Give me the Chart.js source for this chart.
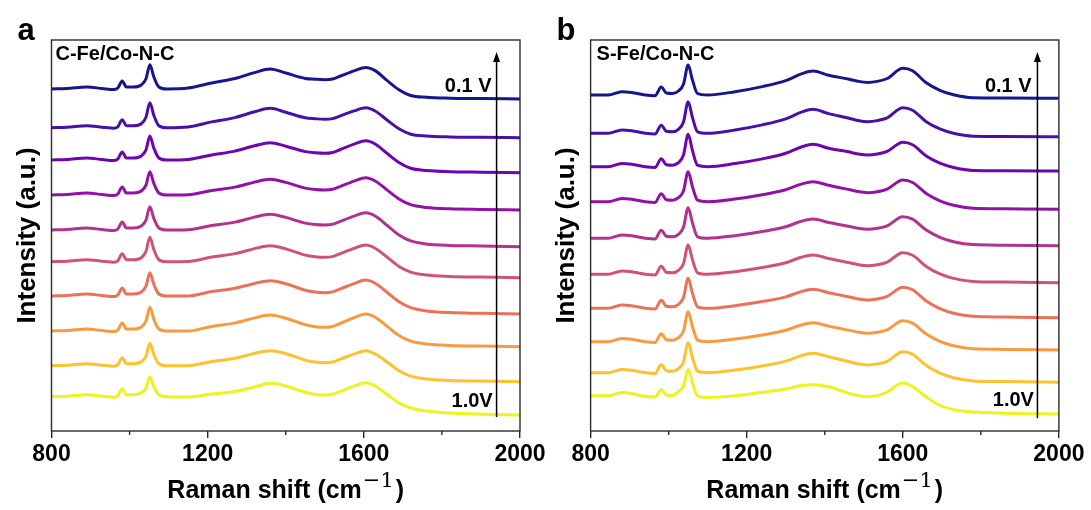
<!DOCTYPE html>
<html>
<head>
<meta charset="utf-8">
<script src="https://cdn.jsdelivr.net/npm/chart.js@4.4.1/dist/chart.umd.min.js"></script>
<style>
  html, body { margin: 0; padding: 0; background: #fff; }
  #wrap { position: relative; width: 1091px; height: 510px; overflow: hidden; }
  .panel { position: absolute; top: 0; height: 510px; }
  #pa { left: 0; width: 560px; }
  #pb { left: 530px; width: 561px; }
</style>
</head>
<body>
<div id="wrap">
  <div class="panel" id="pa"><canvas id="ca"></canvas></div>
  <div class="panel" id="pb"><canvas id="cb"></canvas></div>
</div>
<script>
// ---- Raman spectra (stacked, 0.1 V on top down to 1.0 V at the bottom) ----
const potentials = ['0.1 V', '0.2 V', '0.3 V', '0.4 V', '0.5 V', '0.6 V', '0.7 V', '0.8 V', '0.9 V', '1.0 V'];

// C-Fe/Co-N-C
const ramanShiftA = [800, 840, 890, 930, 960, 970, 981, 992, 1010, 1030, 1042, 1052, 1062, 1075, 1095, 1150, 1210, 1270, 1320, 1360, 1400, 1450, 1475, 1500, 1520, 1540, 1575, 1605, 1630, 1660, 1690, 1720, 1760, 1820, 1900, 2000];
const cFe_01 = [342, 342.5, 344, 342.5, 341.5, 343, 350, 344, 344, 346, 352.2, 366.3, 354.2, 344, 342, 342.9, 348, 352.5, 358.4, 362, 358, 352.6, 351.8, 351.3, 352, 355, 360.2, 363.6, 360.1, 350.3, 341.3, 335.5, 333.7, 332.8, 332.4, 332];
const cFe_02 = [303.3, 303.8, 305.3, 303.8, 302.8, 304.3, 311.3, 305.3, 305.3, 307.3, 313.8, 328.3, 315.8, 305.3, 303.3, 304.1, 309.1, 313.4, 319.2, 322.7, 318.8, 313.2, 312.3, 311.7, 312.4, 315.2, 320.1, 323.3, 319.8, 310.8, 302.3, 296.8, 295, 294.1, 293.7, 293.3];
const cFe_03 = [271, 271.5, 273, 271.5, 270.5, 272, 279, 273, 273, 275, 281.1, 295, 283, 273, 271, 271.5, 276.1, 279.9, 285.2, 288.3, 284.8, 279.4, 278.2, 277.7, 278.5, 281.5, 286.8, 290.3, 286.8, 277.5, 268.5, 262.7, 260.5, 259.3, 258.8, 258.3];
const cFe_04 = [236, 236.5, 238, 236.5, 235.5, 237, 244, 238, 238, 240, 245.8, 259.3, 247.7, 238, 236, 236.3, 240.5, 243.9, 248.9, 251.7, 248.6, 242.9, 241.5, 241, 241.7, 244.7, 249.9, 253.3, 249.8, 240.9, 232, 226.3, 223.6, 222.2, 221.6, 221];
const cFe_05 = [201, 201.5, 203, 201.5, 200.5, 202, 209, 203, 203, 205, 210.8, 224.3, 212.7, 203, 201, 201.3, 205.5, 208.9, 213.9, 216.7, 213.6, 207.9, 206.5, 206, 206.7, 209.7, 214.9, 218.3, 214.8, 205.5, 196.1, 190.1, 187.1, 185.6, 185, 184.3];
const cFe_06 = [169.3, 169.8, 171.3, 169.8, 168.8, 170.3, 177.3, 171.3, 171.3, 173.3, 179.6, 193.7, 181.5, 171.3, 169.3, 169.5, 173.9, 177.4, 182.4, 185.3, 182.1, 175.9, 174.3, 173.7, 174.4, 177.4, 182.6, 186, 182.5, 173.7, 164.6, 158.9, 156, 154.6, 153.9, 153.3];
const cFe_07 = [135, 135.5, 137, 135.5, 134.5, 136, 143, 137, 137, 139, 144.8, 158.3, 146.7, 137, 135, 135, 139.4, 142.7, 147.5, 150.3, 147.2, 140.8, 138.9, 138.3, 139.1, 142.1, 147.4, 151, 147.5, 138.5, 129.2, 123.3, 120.1, 118.4, 117.7, 117];
const cFe_08 = [100, 100.5, 102, 100.5, 99.5, 101, 108, 102, 102, 104, 110, 123.7, 111.9, 102, 100, 100, 104.6, 108.1, 113.1, 116, 112.8, 106.2, 104.3, 103.7, 104.5, 107.7, 113.3, 117, 113.5, 104.6, 95.5, 89.8, 87, 85.6, 84.9, 84.3];
const cFe_09 = [65.3, 65.8, 67.3, 65.8, 64.8, 66.3, 73.3, 67.3, 67.3, 69.3, 74.7, 87.7, 76.5, 67.3, 65.3, 65.3, 69.5, 72.8, 77.6, 80.3, 77.3, 70.9, 68.9, 68.3, 69, 71.9, 76.9, 80.3, 76.8, 68.8, 60.3, 54.9, 52, 50.6, 49.9, 49.3];
const cFe_10 = [34.3, 34.8, 36.3, 34.8, 33.8, 35.3, 42.3, 36.3, 36.3, 38.3, 42.7, 54.3, 44.3, 36.3, 34.3, 34, 37, 39.5, 44, 47.7, 45, 38.7, 36.5, 36, 36.8, 39.7, 44.9, 48.3, 44.8, 36.5, 28, 23, 20, 18, 16.8, 16];

// S-Fe/Co-N-C
const ramanShiftB = [800, 845, 880, 905, 940, 965, 981, 994, 1010, 1025, 1038, 1050, 1061, 1074, 1100, 1170, 1240, 1300, 1340, 1370, 1410, 1460, 1485, 1510, 1535, 1560, 1600, 1625, 1660, 1695, 1730, 1780, 1860, 2000];
const sFe_01 = [336, 336, 339.2, 338.5, 336, 335.2, 344, 338, 337.5, 340, 346.8, 366, 351, 337.5, 336, 339.3, 344.4, 350.4, 357.1, 360, 355.7, 352, 349.7, 348.5, 349.6, 352.5, 362.7, 360.2, 348.2, 340.7, 336.2, 333.2, 332.9, 332.7];
const sFe_02 = [297.7, 297.7, 300.9, 300.2, 297.7, 296.9, 305.7, 299.7, 299.2, 301.7, 309.1, 329.3, 313.5, 299.2, 297.7, 301, 306.1, 312.1, 318.8, 321.7, 317.4, 313, 310.5, 309.3, 310.4, 313.2, 323.3, 320.8, 309.3, 302.1, 297.7, 294.8, 294.5, 294.3];
const sFe_03 = [264.3, 264.3, 267.5, 266.8, 264.3, 263.5, 272.3, 266.3, 265.8, 268.3, 276, 296.7, 280.5, 265.8, 264.3, 267.4, 272.1, 277.7, 284, 286.7, 282.7, 279.2, 277.1, 276, 277, 279.6, 288.7, 286.2, 275, 267.8, 263.5, 260.6, 260.3, 260];
const sFe_04 = [229.3, 229.3, 232.5, 231.8, 229.3, 228.5, 237.3, 231.3, 230.8, 233.3, 240.1, 259.3, 244.3, 230.8, 229.3, 232, 236.3, 241.3, 246.9, 249.3, 245.7, 241.6, 239.4, 238.3, 239.3, 241.9, 251, 248.5, 237.5, 230.2, 225.8, 222.8, 222.2, 221.7];
const sFe_05 = [192.7, 192.7, 195.9, 195.2, 192.7, 191.9, 200.7, 194.7, 194.2, 196.7, 203.7, 223.3, 208, 194.2, 192.7, 195.3, 199.5, 204.3, 209.7, 212, 208.5, 204.8, 202.7, 201.7, 202.7, 205.2, 214.3, 211.8, 200.9, 193.7, 189.3, 186.4, 185.8, 185.3];
const sFe_06 = [156.7, 156.7, 159.9, 159.2, 156.7, 155.9, 164.7, 158.7, 158.2, 160.7, 167.2, 186, 171.4, 158.2, 156.7, 159.3, 163.5, 168.3, 173.7, 176, 172.5, 168.5, 166.4, 165.3, 166.3, 168.9, 178.3, 175.8, 164.6, 157.1, 152.6, 149.6, 148.9, 148.3];
const sFe_07 = [122.7, 122.7, 125.9, 125.2, 122.7, 121.9, 130.7, 124.7, 124.2, 126.7, 133.5, 152.7, 137.7, 124.2, 122.7, 125.3, 129.4, 134.1, 139.4, 141.7, 138.3, 134.2, 132.1, 131, 132, 134.6, 143.7, 141.2, 129.9, 122.3, 117.7, 114.7, 114, 113.3];
const sFe_08 = [89.3, 89.3, 92.5, 91.8, 89.3, 88.5, 97.3, 91.3, 90.8, 93.3, 100.1, 119.3, 104.3, 90.8, 89.3, 91.9, 96, 100.7, 106, 108.3, 104.9, 100.9, 98.8, 97.7, 98.7, 101.2, 110.3, 107.8, 96.9, 89.6, 85.2, 82.2, 81.6, 81];
const sFe_09 = [58.3, 58.3, 61.5, 60.8, 58.3, 57.5, 66.3, 60.3, 59.8, 62.3, 69.1, 88.3, 73.3, 59.8, 58.3, 60.9, 65.1, 69.9, 75.4, 77.7, 74.2, 69.5, 67.2, 66, 67.1, 69.7, 79.3, 76.8, 65.4, 57.8, 53.2, 50.1, 49.4, 48.7];
const sFe_10 = [35.3, 35.3, 38.5, 37.5, 34.5, 34, 41.3, 36, 35.5, 39.5, 44.8, 61.8, 48.6, 35, 33.5, 35.3, 38.7, 42, 45.5, 46.3, 44.3, 37.9, 35.5, 34.3, 35.4, 39, 48, 44.5, 34, 25.5, 21.5, 19, 17.8, 17];

// axis ticks
const majorTickValues = [800, 1200, 1600, 2000];
const minorTickValues = [1000, 1400, 1800];

// plasma-like sequence, 0.1 V (dark blue) to 1.0 V (yellow)
const curveColors = ['#17168c', '#4a10a6', '#6e06ae', '#9113a5', '#b2338c', '#cf5473', '#eb7158', '#f99a42', '#fdc22e', '#eef21e'];

const FONT = '"Liberation Sans", Arial, Helvetica, sans-serif';

// frame, minor ticks, annotations and titles
const decorPlugin = {
  id: 'panelDecor',
  afterDraw(chart, args, o) {
    const { ctx, chartArea: a, scales: { x, y } } = chart;
    ctx.save();

    // plot frame
    ctx.strokeStyle = '#2b2b2b';
    ctx.lineWidth = 1.4;
    ctx.strokeRect(a.left, a.top, a.right - a.left, a.bottom - a.top);

    // minor ticks
    ctx.beginPath();
    for (const v of minorTickValues) {
      const px = x.getPixelForValue(v);
      ctx.moveTo(px, a.bottom);
      ctx.lineTo(px, a.bottom + 4);
    }
    ctx.stroke();

    // potential arrow
    const ax = x.getPixelForValue(o.arrowX);
    const y0 = y.getPixelForValue(o.arrowFrom);
    const y1 = y.getPixelForValue(o.arrowTo);
    ctx.strokeStyle = '#000';
    ctx.lineWidth = 1.5;
    ctx.beginPath();
    ctx.moveTo(ax, y0);
    ctx.lineTo(ax, y1 + 8);
    ctx.stroke();
    ctx.fillStyle = '#000';
    ctx.beginPath();
    ctx.moveTo(ax, y1);
    ctx.lineTo(ax - 3.5, y1 + 10);
    ctx.lineTo(ax + 3.5, y1 + 10);
    ctx.closePath();
    ctx.fill();

    // potential labels
    ctx.font = 'bold 20px ' + FONT;
    ctx.textAlign = 'right';
    ctx.textBaseline = 'alphabetic';
    ctx.fillText(o.topLabel, x.getPixelForValue(o.topLabelX), y.getPixelForValue(o.topLabelY));
    ctx.fillText(o.bottomLabel, x.getPixelForValue(o.bottomLabelX), y.getPixelForValue(o.bottomLabelY));

    // sample name
    ctx.textAlign = 'left';
    ctx.fillText(o.sample, a.left + o.sampleDx, a.top + 20);

    // panel letter
    ctx.font = 'bold 31px ' + FONT;
    ctx.fillText(o.letter, a.left - 34, 39.5);

    // y title
    ctx.save();
    ctx.translate(a.left - 16.7, (a.top + a.bottom) / 2);
    ctx.rotate(-Math.PI / 2);
    ctx.font = 'bold 26px ' + FONT;
    ctx.textAlign = 'center';
    ctx.fillText('Intensity (a.u.)', 0, 0);
    ctx.restore();

    // x title with superscript
    const base = 'Raman shift (cm';
    const sup = '\u22121';
    const close = ')';
    const mainFont = 'bold 25px ' + FONT;
    const supFont = '21px "DejaVu Serif", serif';
    ctx.font = mainFont;
    const wBase = ctx.measureText(base).width;
    const wClose = ctx.measureText(close).width;
    ctx.font = supFont;
    const wSup = ctx.measureText(sup).width;
    const total = wBase + 1 + wSup + 2 + wClose;
    let tx = (a.left + a.right) / 2 - total / 2;
    const by = 498;
    ctx.textAlign = 'left';
    ctx.font = mainFont;
    ctx.fillText(base, tx, by);
    tx += wBase + 1;
    ctx.font = supFont;
    ctx.fillText(sup, tx, by - 11);
    tx += wSup + 2;
    ctx.font = mainFont;
    ctx.fillText(close, tx, by);

    ctx.restore();
  }
};

function buildPanel(canvasId, xs, series, pad, decor) {
  const datasets = series.map((ys, i) => ({
    label: potentials[i],
    data: xs.map((xv, j) => ({ x: xv, y: ys[j] })),
    borderColor: curveColors[i],
    borderWidth: 3,
    pointRadius: 0,
    cubicInterpolationMode: 'monotone',
    fill: false
  }));
  return new Chart(document.getElementById(canvasId), {
    type: 'line',
    data: { datasets },
    options: {
      responsive: true,
      maintainAspectRatio: false,
      animation: false,
      devicePixelRatio: 1,
      layout: { padding: pad },
      plugins: {
        legend: { display: false },
        tooltip: { enabled: false },
        panelDecor: decor
      },
      scales: {
        x: {
          type: 'linear',
          min: 800,
          max: 2000,
          afterFit: (s) => { s.height = 79; },
          border: { display: false },
          grid: {
            drawOnChartArea: false,
            drawTicks: true,
            tickLength: 7,
            lineWidth: 1.4,
            color: (c) => (c.tick && majorTickValues.includes(c.tick.value)) ? '#2b2b2b' : 'rgba(0,0,0,0)'
          },
          ticks: {
            stepSize: 200,
            autoSkip: false,
            maxRotation: 0,
            padding: 3,
            color: '#000',
            font: { family: FONT, size: 23, weight: 'bold' },
            callback: (v) => majorTickValues.includes(v) ? String(v) : ''
          }
        },
        y: { display: false, min: 0, max: 391 }
      }
    },
    plugins: [decorPlugin]
  });
}

buildPanel('ca', ramanShiftA,
  [cFe_01, cFe_02, cFe_03, cFe_04, cFe_05, cFe_06, cFe_07, cFe_08, cFe_09, cFe_10],
  { left: 51.5, right: 40, top: 40, bottom: 0 },
  {
    letter: 'a', sample: 'C-Fe/Co-N-C', sampleDx: 4,
    arrowX: 1940, arrowFrom: 14, arrowTo: 379,
    topLabel: '0.1 V', topLabelX: 1927, topLabelY: 338.7,
    bottomLabel: '1.0V', bottomLabelX: 1930, bottomLabelY: 23.7
  });

buildPanel('cb', ramanShiftB,
  [sFe_01, sFe_02, sFe_03, sFe_04, sFe_05, sFe_06, sFe_07, sFe_08, sFe_09, sFe_10],
  { left: 60.6, right: 32.1, top: 40, bottom: 0 },
  {
    letter: 'b', sample: 'S-Fe/Co-N-C', sampleDx: 6,
    arrowX: 1945, arrowFrom: 12.7, arrowTo: 379,
    topLabel: '0.1 V', topLabelX: 1930, topLabelY: 339.3,
    bottomLabel: '1.0V', bottomLabelX: 1936, bottomLabelY: 25
  });
</script>
</body>
</html>
